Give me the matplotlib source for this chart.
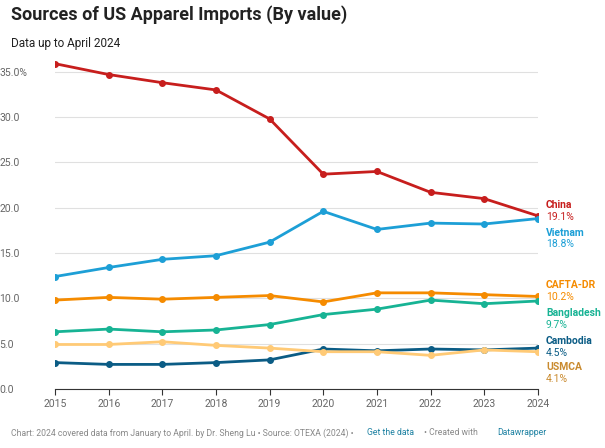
import matplotlib.pyplot as plt

plt.rcParams['font.family'] = ['Roboto', 'DejaVu Sans']

years = [2015, 2016, 2017, 2018, 2019, 2020, 2021, 2022, 2023, 2024]
china = [35.9, 34.7, 33.8, 33.0, 29.8, 23.7, 24.0, 21.7, 21.0, 19.1]
vietnam = [12.4, 13.4, 14.3, 14.7, 16.2, 19.6, 17.6, 18.3, 18.2, 18.8]
cafta = [9.8, 10.1, 9.9, 10.1, 10.3, 9.6, 10.6, 10.6, 10.4, 10.2]
bangladesh = [6.3, 6.6, 6.3, 6.5, 7.1, 8.2, 8.8, 9.8, 9.4, 9.7]
cambodia = [2.9, 2.7, 2.7, 2.9, 3.2, 4.4, 4.2, 4.4, 4.3, 4.5]
usmca = [4.9, 4.9, 5.2, 4.8, 4.5, 4.1, 4.1, 3.7, 4.3, 4.1]

series = [
    ("China", china, "#c71e1d", 19.6),
    ("Vietnam", vietnam, "#1d9fd6", 16.6),
    ("CAFTA-DR", cafta, "#f58b00", 10.8),
    ("Bangladesh", bangladesh, "#17b394", 7.7),
    ("Cambodia", cambodia, "#0b5c85", 4.6),
    ("USMCA", usmca, "#e9a23b", 1.8),
]

fig = plt.figure(figsize=(6.05, 4.48), dpi=100)
ax = fig.add_axes([0.091, 0.132, 0.798, 0.738])

for name, vals, color, label_y in series:
    lc = "#ffca76" if name == "USMCA" else color
    ax.plot(years, vals, color=lc, lw=2.0, marker='o', ms=4, zorder=3)
    tc = "#c98a2e" if name == "USMCA" else color
    ax.text(2024.15, label_y + 0.66, name, color=tc, fontsize=7.5,
            fontweight='bold', va='center')
    ax.text(2024.15, label_y - 0.66, f"{vals[-1]:.1f}%", color=tc,
            fontsize=7.5, va='center')

ax.set_xlim(2015, 2024)
ax.set_ylim(0, 36.5)
ax.set_yticks([0, 5, 10, 15, 20, 25, 30, 35])
ax.set_yticklabels(["0.0", "5.0", "10.0", "15.0", "20.0", "25.0", "30.0", "35.0%"])
ax.set_xticks(years)
ax.tick_params(axis='y', length=0, labelsize=7.5, labelcolor='#666666')
ax.tick_params(axis='x', length=4, color='#333333', labelsize=7.5, labelcolor='#666666')
for lbl in ax.get_yticklabels():
    lbl.set_horizontalalignment('left')
ax.yaxis.set_tick_params(pad=40)
ax.grid(axis='y', color='#e0e0e0', lw=0.8)
for s in ['top', 'right', 'left']:
    ax.spines[s].set_visible(False)
ax.spines['bottom'].set_color('#333333')

fig.text(0.018, 0.955, "Sources of US Apparel Imports (By value)", fontsize=13,
         fontweight='bold', color='#222222')
fig.text(0.018, 0.895, "Data up to April 2024", fontsize=8.5, color='#222222')
fig.text(0.018, 0.028, "Chart: 2024 covered data from January to April. by Dr. Sheng Lu \u2022 Source: OTEXA (2024) \u2022",
         fontsize=6.2, color='#888888')
fig.text(0.607, 0.028, "Get the data", fontsize=6.2, color='#1d81a2')
fig.text(0.70, 0.028, "\u2022 Created with", fontsize=6.2, color='#888888')
fig.text(0.822, 0.028, "Datawrapper", fontsize=6.2, color='#1d81a2')

fig.savefig("out.png", dpi=100)
